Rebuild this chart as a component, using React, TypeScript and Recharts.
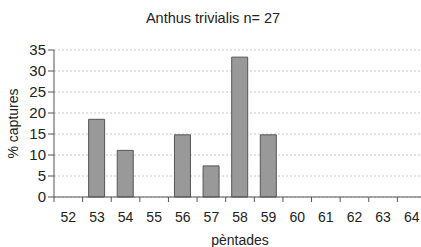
import React from 'react';
import { BarChart, Bar, XAxis, YAxis, CartesianGrid, Label } from 'recharts';

const pentades = ['52', '53', '54', '55', '56', '57', '58', '59', '60', '61', '62', '63', '64'];
const captures = [0, 18.5, 11.1, 0, 14.8, 7.4, 33.3, 14.8, 0, 0, 0, 0, 0];
const yTicks = [0, 5, 10, 15, 20, 25, 30, 35];
const title = 'Anthus trivialis n= 27';
const xTitle = 'pèntades';
const yTitle = '% captures';

const data = pentades.map((p, i) => ({ p, v: captures[i] }));

const FONT = 'Liberation Sans, Arial, sans-serif';

const XTick = (props: any) => {
  const { x, y, payload, index } = props;
  const off = payload && payload.offset ? payload.offset : 14.3;
  return (
    <g>
      <line x1={x - off} x2={x - off} y1={y - 8} y2={y - 3} stroke="#555" strokeWidth={1} />
      {index === pentades.length - 1 && (
        <line x1={x + off} x2={x + off} y1={y - 8} y2={y - 3} stroke="#555" strokeWidth={1} />
      )}
      <text x={x} y={y + 17} textAnchor="middle" fontSize={14} fill="#222" fontFamily={FONT}>
        {payload.value}
      </text>
    </g>
  );
};

export default function App() {
  return (
    <div style={{ position: 'absolute', left: 0, top: 0, width: 421, height: 247, overflow: 'hidden', background: '#fff' }}>
      <BarChart
        width={430}
        height={247}
        data={data}
        margin={{ top: 50, right: 4, bottom: 0, left: 0 }}
        barSize={16}
      >
        <text x={213} y={23} textAnchor="middle" fontSize={14.5} fill="#222" fontFamily={FONT}>
          {title}
        </text>
        <CartesianGrid vertical={false} stroke="#c8c8c8" strokeDasharray="2 2" />
        <XAxis
          dataKey="p"
          tickLine={false}
          axisLine={{ stroke: '#555' }}
          tick={<XTick />}
          interval={0}
          height={50}
        >
          <Label
            content={(p: any) => {
              const vb = p.viewBox || { x: 54, width: 372 };
              return (
                <text x={vb.x + vb.width / 2} y={245} textAnchor="middle" fontSize={14} fill="#222" fontFamily={FONT}>
                  {xTitle}
                </text>
              );
            }}
          />
        </XAxis>
        <YAxis
          width={54}
          domain={[0, 35]}
          ticks={yTicks}
          interval={0}
          tickSize={6}
          tickMargin={2}
          axisLine={{ stroke: '#555' }}
          tickLine={{ stroke: '#555' }}
          tick={{ fontSize: 15, fill: '#222', fontFamily: FONT }}
        >
          <Label
            content={(p: any) => {
              const vb = p.viewBox || { x: 0, y: 50, height: 147 };
              const cx = 13;
              const cy = vb.y + vb.height / 2;
              return (
                <text
                  x={cx}
                  y={cy}
                  textAnchor="middle"
                  dominantBaseline="central"
                  transform={`rotate(-90, ${cx}, ${cy})`}
                  fontSize={14}
                  fill="#222"
                  fontFamily={FONT}
                >
                  {yTitle}
                </text>
              );
            }}
          />
        </YAxis>
        <Bar dataKey="v" fill="#999999" stroke="#555555" strokeWidth={1} isAnimationActive={false} />
      </BarChart>
    </div>
  );
}
